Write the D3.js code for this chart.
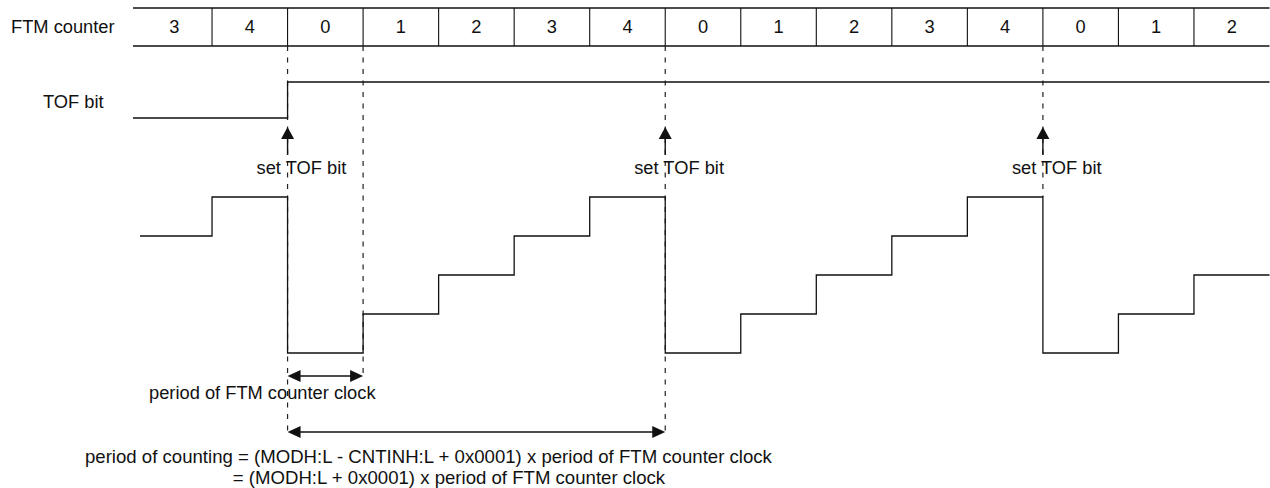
<!DOCTYPE html>
<html>
<head>
<meta charset="utf-8">
<script src="https://cdn.jsdelivr.net/npm/d3@7"></script>
<style>
  html, body { margin: 0; padding: 0; background: #fff; }
  svg { display: block; }
  text { font-family: "Liberation Sans", Arial, Helvetica, sans-serif; fill: #111; }
</style>
</head>
<body>
<svg id="chart" width="1270" height="488"></svg>
<script>
// ---- data ----
const counterValues = [3, 4, 0, 1, 2, 3, 4, 0, 1, 2, 3, 4, 0, 1, 2];
const tofBit        = [0, 0, 1, 1, 1, 1, 1, 1, 1, 1, 1, 1, 1, 1, 1];
const rowLabels     = ["FTM counter", "TOF bit"];
const setLabel      = "set TOF bit";
const clockLabel    = "period of FTM counter clock";
const formulaLine1  = "period of counting = (MODH:L - CNTINH:L + 0x0001) x period of FTM counter clock";
const formulaLine2  = "= (MODH:L + 0x0001) x period of FTM counter clock";

// ---- layout ----
const svg = d3.select("#chart");
const n = counterValues.length;
const x = d3.scaleLinear().domain([0, n]).range([136.5, 1269.5]);
const yCount = d3.scaleLinear().domain([0, 4]).range([353, 197]);
const yTof = d3.scaleLinear().domain([0, 1]).range([118, 82]);
const rowTop = 8, rowBot = 46;
const FS = 18.3;
const FSB = 18.6;
const ink = "#111";

// counter row
svg.append("line").attr("x1", x(0) - 3.5).attr("x2", x(n)).attr("y1", rowTop).attr("y2", rowTop)
  .attr("stroke", ink).attr("stroke-width", 1.3);
svg.append("line").attr("x1", x(0) - 3.5).attr("x2", x(n)).attr("y1", rowBot).attr("y2", rowBot)
  .attr("stroke", ink).attr("stroke-width", 1.3);
svg.selectAll(".cellsep").data(d3.range(1, n)).enter().append("line")
  .attr("x1", d => x(d)).attr("x2", d => x(d)).attr("y1", rowTop).attr("y2", rowBot)
  .attr("stroke", ink).attr("stroke-width", 1.1);
svg.selectAll(".cellval").data(counterValues).enter().append("text")
  .attr("x", (d, i) => (x(i) + x(i + 1)) / 2).attr("y", 33)
  .attr("text-anchor", "middle").attr("font-size", FS).text(d => d);

svg.append("text").attr("x", 11).attr("y", 33).attr("font-size", FS).text(rowLabels[0]);
svg.append("text").attr("x", 43).attr("y", 108).attr("font-size", FS).text(rowLabels[1]);

// overflow points (where counter wraps to 0)
const wraps = counterValues.map((v, i) => v === 0 ? i : -1).filter(i => i >= 0);

// dashed guide lines
const guides = [
  { i: wraps[0], y2: 432 },
  { i: wraps[0] + 1, y2: 376 },
  { i: wraps[1], y2: 432 },
  { i: wraps[2], y2: 197 }
];
svg.selectAll(".guide").data(guides).enter().append("line")
  .attr("x1", d => x(d.i)).attr("x2", d => x(d.i)).attr("y1", rowBot).attr("y2", d => d.y2)
  .attr("stroke", "#222").attr("stroke-width", 1.2).attr("stroke-dasharray", "5,6.5");

// TOF bit waveform
const tofPts = tofBit.map((v, i) => [i === 0 ? x(0) - 3.5 : x(i), yTof(v)]);
tofPts.push([x(n), yTof(tofBit[n - 1])]);
svg.append("path").attr("d", d3.line().curve(d3.curveStepAfter)(tofPts))
  .attr("fill", "none").attr("stroke", ink).attr("stroke-width", 1.3);

// counter staircase
const stairPts = counterValues.map((v, i) => [i === 0 ? x(0) + 3.5 : x(i), yCount(v)]);
stairPts.push([x(n), yCount(counterValues[n - 1])]);
svg.append("path").attr("d", d3.line().curve(d3.curveStepAfter)(stairPts))
  .attr("fill", "none").attr("stroke", ink).attr("stroke-width", 1.3);

// set TOF bit arrows
const tipY = 127, shaftEnd = 155;
wraps.forEach(i => {
  const cx = x(i);
  svg.append("line").attr("x1", cx).attr("x2", cx).attr("y1", tipY + 8).attr("y2", shaftEnd)
    .attr("stroke", ink).attr("stroke-width", 1.4);
  svg.append("path").attr("d", `M${cx},${tipY} L${cx - 6.5},${tipY + 12} L${cx + 6.5},${tipY + 12} Z`)
    .attr("fill", ink);
  svg.append("text").attr("x", cx - 31).attr("y", 174).attr("font-size", FS).text(setLabel);
});

// double arrows
function dblArrow(x1, x2, y) {
  svg.append("line").attr("x1", x1 + 8).attr("x2", x2 - 8).attr("y1", y).attr("y2", y)
    .attr("stroke", ink).attr("stroke-width", 1.5);
  svg.append("path").attr("d", `M${x1},${y} L${x1 + 13},${y - 6} L${x1 + 13},${y + 6} Z`).attr("fill", ink);
  svg.append("path").attr("d", `M${x2},${y} L${x2 - 13},${y - 6} L${x2 - 13},${y + 6} Z`).attr("fill", ink);
}
dblArrow(x(wraps[0]), x(wraps[0] + 1), 376);
dblArrow(x(wraps[0]), x(wraps[1]), 432);

svg.append("text").attr("x", 149).attr("y", 399).attr("font-size", FS).text(clockLabel);
const startX = 85;
svg.append("text").attr("x", startX).attr("y", 463).attr("font-size", FSB).text(formulaLine1);
// align "=" of second line under the "=" in the first line
const tmp = svg.append("text").attr("font-size", FSB).attr("x", -1000).text("period of counting ");
const eqX = startX + tmp.node().getComputedTextLength();
tmp.remove();
svg.append("text").attr("x", eqX).attr("y", 484).attr("font-size", FSB).text(formulaLine2);
</script>
</body>
</html>
